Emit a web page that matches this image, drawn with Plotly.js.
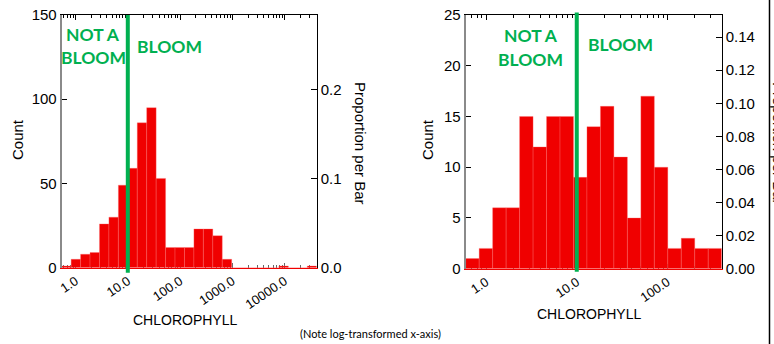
<!DOCTYPE html>
<html>
<head>
<meta charset="utf-8">
<script src="https://cdn.plot.ly/plotly-3.0.1.min.js"></script>
<style>html,body{margin:0;padding:0;background:#fff;}#chart{width:774px;height:344px;}</style>
</head>
<body>
<div id="chart"></div>
<script>
// ---- Data ----
// Left histogram: counts per log10-bin of chlorophyll
const leftCounts = [1, 5, 8, 9, 26, 30, 49, 59, 86, 95, 53, 12, 12, 12, 23, 23, 19, 5, 0, 0, 0, 0, 0, 1, 0, 0, 1];
const leftBinStartLog = -0.264;   // log10 of first bin's lower edge
const leftBinWidthLog = 0.1806;   // bin width in log10 units
// Right histogram
const rightCounts = [1, 2, 6, 6, 15, 12, 15, 15, 9, 14, 16, 11, 5, 17, 10, 2, 3, 2, 2];
const rightBinStartLog = -0.224;
const rightBinWidthLog = 0.1485;
// Bloom threshold (chlorophyll)
const bloomThreshold = 10;
// Tick labels
const leftTickValues = [1, 10, 100, 1000, 10000];
const leftTickLabels = ["1.0", "10.0", "100.0", "1000.0", "10000.0"];
const rightTickValues = [1, 10, 100];
const rightTickLabels = ["1.0", "10.0", "100.0"];
const leftCountTicks = [0, 50, 100, 150];
const rightCountTicks = [0, 5, 10, 15, 20, 25];
const leftCountMax = 150;
const rightCountMax = 25;

// ---- helpers ----
const centers = (counts, start, w) => counts.map((_, i) => start + (i + 0.5) * w);
const minorTicks = (lo, hi) => {
  const out = [];
  for (let k = -2; k <= 6; k++) for (let m = 2; m <= 9; m++) {
    const v = k + Math.log10(m);
    if (v > lo && v < hi) out.push(v);
  }
  return out;
};
const sum = a => a.reduce((s, v) => s + v, 0);

const lLo = leftBinStartLog, lHi = leftBinStartLog + leftCounts.length * leftBinWidthLog;
const rLo = rightBinStartLog, rHi = rightBinStartLog + rightCounts.length * rightBinWidthLog;
const lN = sum(leftCounts), rN = sum(rightCounts);

const RED = '#f00000', GREEN = '#00b050';
const FONT = '"Liberation Sans", Arial, sans-serif';
const W = 774, H = 344;
const px = v => v / W, py = v => 1 - v / H;

const barStyle = {color: RED, line: {color: 'rgba(255,110,110,0.55)', width: 0.6}};
const lX = centers(leftCounts, leftBinStartLog, leftBinWidthLog);
const rX = centers(rightCounts, rightBinStartLog, rightBinWidthLog);

const traces = [
  {type: 'bar', x: lX, y: leftCounts, width: leftBinWidthLog, marker: barStyle, xaxis: 'x', yaxis: 'y', hoverinfo: 'y'},
  // proportion per bar (same bars expressed as proportions) – carries the top/right axes, drawn transparent
  {type: 'scatter', mode: 'markers', x: lX, y: leftCounts.map(c => c / lN), marker: {opacity: 0, size: 1},
   xaxis: 'x2', yaxis: 'y2', hoverinfo: 'skip', cliponaxis: true},
  {type: 'bar', x: rX, y: rightCounts, width: rightBinWidthLog, marker: barStyle, xaxis: 'x3', yaxis: 'y3', hoverinfo: 'y'},
  {type: 'scatter', mode: 'markers', x: rX, y: rightCounts.map(c => c / rN), marker: {opacity: 0, size: 1},
   xaxis: 'x4', yaxis: 'y4', hoverinfo: 'skip', cliponaxis: true}
];

const lDom = [px(61.7), px(316.7)], rDom = [px(465.7), px(721.7)];
const lYDom = [py(267.7), py(15)], rYDom = [py(268.7), py(15)];

function bottomAxis(dom, lo, hi, vals, labels, yref) {
  return {domain: dom, range: [lo, hi], anchor: yref, showline: true, linecolor: RED, linewidth: 1,
    ticks: 'inside', ticklen: 5, tickcolor: '#666', tickwidth: 1,
    tickvals: vals.map(v => Math.log10(v)), ticktext: labels, tickangle: -34,
    tickfont: {family: FONT, size: 13, color: '#000'},
    minor: {tickmode: 'array', tickvals: minorTicks(lo, hi), ticks: 'inside', ticklen: 3, tickcolor: '#666', tickwidth: 1},
    showgrid: false, zeroline: false, layer: 'below traces', fixedrange: true};
}
function topAxis(dom, lo, hi, vals, over, yref) {
  return {domain: dom, range: [lo, hi], overlaying: over, anchor: yref, side: 'top', showline: true,
    linecolor: '#000', linewidth: 1, ticks: 'inside', ticklen: 5, tickcolor: '#000', tickwidth: 1,
    tickvals: vals.map(v => Math.log10(v)), showticklabels: false,
    minor: {tickmode: 'array', tickvals: minorTicks(lo, hi), ticks: 'inside', ticklen: 3, tickcolor: '#000', tickwidth: 1},
    showgrid: false, zeroline: false, fixedrange: true};
}
function countAxis(dom, max, vals, xref) {
  return {domain: dom, range: [0, max], anchor: xref, showline: true, linecolor: '#8a8a8a', linewidth: 2,
    ticks: 'inside', ticklen: 5, tickcolor: '#000', tickvals: vals,
    tickfont: {family: FONT, size: 15, color: '#000'}, showgrid: false, zeroline: false, fixedrange: true};
}
function propAxis(dom, max, dtick, fmt, over, xref) {
  return {domain: dom, range: [0, max], overlaying: over, anchor: xref, side: 'right', showline: true,
    linecolor: '#000', linewidth: 1, ticks: 'inside', ticklen: 6, tickcolor: '#000', tick0: 0, dtick: dtick,
    tickformat: fmt, tickfont: {family: FONT, size: 15, color: '#000'}, showgrid: false, zeroline: false, fixedrange: true};
}

const ann = (text, x, y, opts) => Object.assign({text, x: px(x), y: py(y), xref: 'paper', yref: 'paper',
  showarrow: false, xanchor: 'center', yanchor: 'middle', font: {family: FONT, size: 15, color: '#000'}}, opts || {});
const bloomFont = {family: 'Lato, "Open Sans", sans-serif', size: 17.5, color: GREEN, weight: 'bold'};

const layout = {
  width: W, height: H, margin: {l: 0, r: 0, t: 0, b: 0}, showlegend: false,
  paper_bgcolor: '#fff', plot_bgcolor: 'rgba(0,0,0,0)', bargap: 0,
  xaxis: bottomAxis(lDom, lLo, lHi, leftTickValues, leftTickLabels, 'y'),
  xaxis2: topAxis(lDom, lLo, lHi, leftTickValues, 'x', 'y'),
  yaxis: countAxis(lYDom, leftCountMax, leftCountTicks, 'x'),
  yaxis2: propAxis(lYDom, leftCountMax / lN, 0.1, '.1f', 'y', 'x'),
  xaxis3: bottomAxis(rDom, rLo, rHi, rightTickValues, rightTickLabels, 'y3'),
  xaxis4: topAxis(rDom, rLo, rHi, rightTickValues, 'x3', 'y3'),
  yaxis3: countAxis(rYDom, rightCountMax, rightCountTicks, 'x3'),
  yaxis4: propAxis(rYDom, rightCountMax / rN, 0.02, '.2f', 'y3', 'x3'),
  shapes: [
    {type: 'line', xref: 'x', yref: 'y domain', x0: Math.log10(bloomThreshold), x1: Math.log10(bloomThreshold),
     y0: -0.02, y1: 1.0, line: {color: GREEN, width: 4}},
    {type: 'line', xref: 'x3', yref: 'y3 domain', x0: Math.log10(bloomThreshold), x1: Math.log10(bloomThreshold),
     y0: -0.012, y1: 1.01, line: {color: GREEN, width: 4}},
    {type: 'line', xref: 'paper', yref: 'paper', x0: px(769.5), x1: px(769.5), y0: 0, y1: 1, line: {color: '#000', width: 1.5}}
  ],
  annotations: [
    ann('Count', 17, 140, {textangle: -90}),
    ann('Proportion per Bar', 361, 143, {textangle: 90}),
    ann('CHLOROPHYLL', 185.3, 320, {font: {family: FONT, size: 14, color: '#000'}}),
    ann('Count', 427, 140, {textangle: -90}),
    ann('Proportion per Bar', 779, 143, {textangle: 90}),
    ann('CHLOROPHYLL', 588.7, 314, {font: {family: FONT, size: 14, color: '#000'}}),
    ann('(Note log-transformed x-axis)', 370, 333, {font: {family: 'Lato, "Open Sans", sans-serif', size: 11, color: '#000'}}),
    ann('NOT A', 92.5, 35, {font: bloomFont}),
    ann('BLOOM', 93, 57.5, {font: bloomFont}),
    ann('BLOOM', 169, 46.5, {font: bloomFont}),
    ann('NOT A', 530.5, 35.5, {font: bloomFont}),
    ann('BLOOM', 530.5, 59.7, {font: bloomFont}),
    ann('BLOOM', 620.8, 44, {font: bloomFont})
  ]
};

Plotly.newPlot('chart', traces, layout, {staticPlot: true, displayModeBar: false});
</script>
</body>
</html>
